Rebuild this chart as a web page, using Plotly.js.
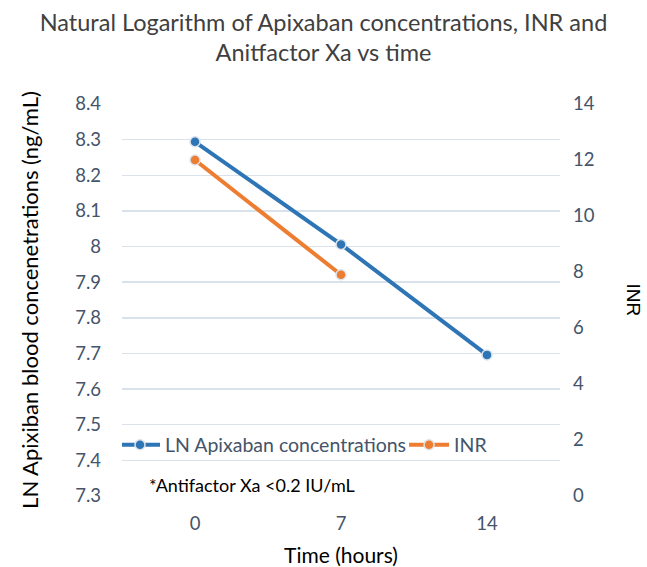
<!DOCTYPE html>
<html>
<head>
<meta charset="utf-8">
<script src="https://cdn.plot.ly/plotly-3.0.1.min.js"></script>
<style>html,body{margin:0;padding:0;background:#fff}#chart{width:647px;height:567px}</style>
</head>
<body>
<div id="chart"></div>
<script>
var timeLabels = ["0", "7", "14"];
var lnApixaban = [8.294, 8.006, 7.696];
var inrTime = ["0", "7"];
var inrValues = [12.0, 7.9];
var leftTicks = [7.3, 7.4, 7.5, 7.6, 7.7, 7.8, 7.9, 8, 8.1, 8.2, 8.3, 8.4];
var rightTicks = [0, 2, 4, 6, 8, 10, 12, 14];

var FONT = "Lato, 'Open Sans', sans-serif";
var tickColor = "#44546A";

var traces = [
  {
    x: timeLabels, y: lnApixaban, type: "scatter", mode: "lines+markers",
    name: "LN Apixaban concentrations",
    line: {color: "#2E75B6", width: 4},
    marker: {color: "#2E75B6", size: 10, line: {color: "#DDE3EA", width: 1.5}},
    yaxis: "y"
  },
  {
    x: inrTime, y: inrValues, type: "scatter", mode: "lines+markers",
    name: "INR",
    line: {color: "#ED7D31", width: 4},
    marker: {color: "#ED7D31", size: 10, line: {color: "#DDE3EA", width: 1.5}},
    yaxis: "y2"
  }
];

var layout = {
  width: 647, height: 567,
  margin: {l: 122, r: 87, t: 104, b: 71},
  paper_bgcolor: "#fff", plot_bgcolor: "#fff",
  font: {family: FONT, color: tickColor},
  title: {
    text: "Natural Logarithm of Apixaban concentrations, INR and<br>Anitfactor Xa vs time",
    font: {family: FONT, size: 23.5, color: "#404040"},
    x: 0.5, xanchor: "center", yref: "container", y: 0.946, yanchor: "middle"
  },
  showlegend: true,
  legend: {
    orientation: "h", x: 0, y: 0.13, xanchor: "left", yanchor: "middle",
    font: {family: FONT, size: 19.5, color: tickColor},
    bgcolor: "rgba(0,0,0,0)", itemwidth: 40, tracegroupgap: 0, indentation: -7
  },
  xaxis: {
    type: "category", categoryorder: "array", categoryarray: timeLabels,
    range: [-0.5, 2.5],
    showgrid: false, zeroline: false, showline: false, ticks: "",
    tickfont: {family: FONT, size: 18.5, color: tickColor},
    ticklabelstandoff: 14,
    title: {text: "Time (hours)", font: {family: FONT, size: 21, color: "#000"}, standoff: 18}
  },
  yaxis: {
    range: [7.3, 8.4], tickvals: leftTicks,
    ticktext: leftTicks.map(function(v){return String(v);}),
    showgrid: true, gridcolor: "#D9E1EA", gridwidth: 1.5,
    zeroline: false, showline: false, ticks: "",
    tickfont: {family: FONT, size: 18.5, color: tickColor},
    ticklabelstandoff: 20,
    title: {text: "LN Apixiban blood concenetrations (ng/mL)", font: {family: FONT, size: 22, color: "#000"}, standoff: 30}
  },
  yaxis2: {
    overlaying: "y", side: "right",
    range: [0, 14], tickvals: rightTicks,
    showgrid: false, zeroline: false, showline: false, ticks: "",
    tickfont: {family: FONT, size: 18.5, color: tickColor},
    ticklabelstandoff: 12
  },
  annotations: [
    {
      text: "*Antifactor Xa <0.2 IU/mL", xref: "paper", yref: "paper",
      x: 0.058, y: 0.028, xanchor: "left", yanchor: "middle", showarrow: false,
      font: {family: FONT, size: 18, color: "#000"}
    },
    {
      text: "INR", xref: "paper", yref: "paper",
      x: 1.17, y: 0.5, xanchor: "center", yanchor: "middle", showarrow: false,
      textangle: 90, font: {family: "Liberation Sans, Arial, sans-serif", size: 19, color: "#000"}
    }
  ]
};

Plotly.newPlot("chart", traces, layout, {displayModeBar: false, staticPlot: true});
</script>
</body>
</html>
